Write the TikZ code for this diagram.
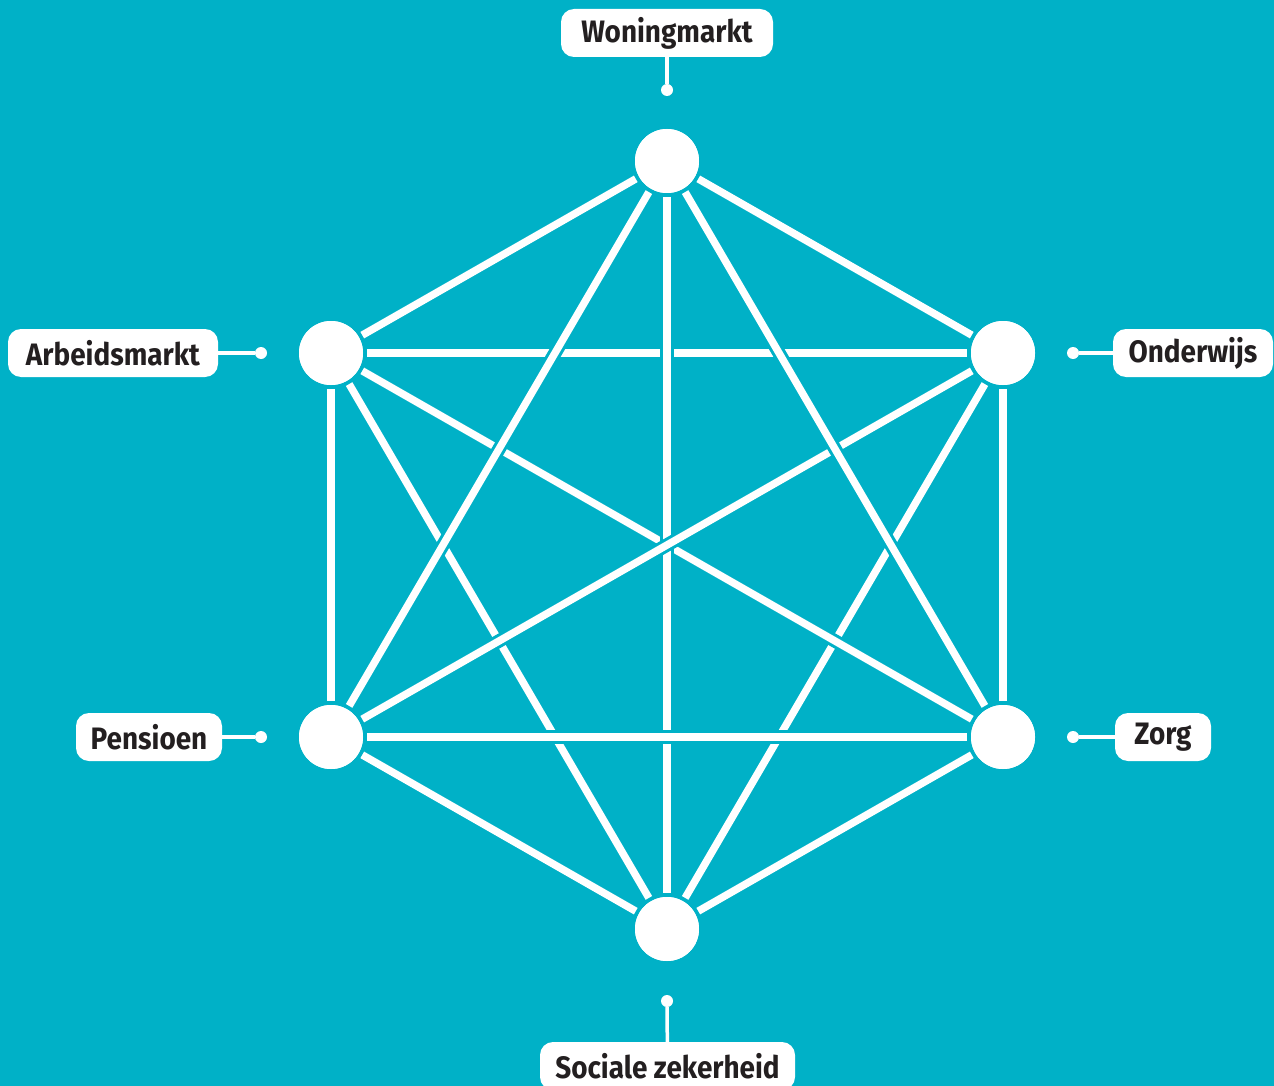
\documentclass[tikz,border=0pt]{standalone}
\usepackage{fontspec}
\setmainfont{Fira Sans}[FakeStretch=0.9]
\definecolor{bg}{HTML}{00B1C7}
\definecolor{ink}{HTML}{231F20}
\tikzset{
  hub/.style={circle, fill=white, minimum size=64pt, inner sep=0pt, outer sep=4pt},
  link/.style={line width=7.5pt, white, preaction={draw=bg, line width=13.5pt}},
  lab/.style={rounded corners=13pt, fill=white, minimum height=48pt, inner sep=0pt,
    text=ink, font=\bfseries\fontsize{31}{31}\selectfont},
  dot/.style={circle, fill=white, minimum size=12pt, inner sep=0pt},
  tick/.style={white, line width=3.5pt}
}
\begin{document}
\begin{tikzpicture}[x=1pt,y=-1pt]
\fill[bg] (0,0) rectangle (1274,1086);
\useasboundingbox (0,0) rectangle (1274,1086);

% hubs (placed first as coordinates for links; drawn on top later)
\node[hub] (W) at (667,161) {};
\node[hub] (A) at (331,353) {};
\node[hub] (O) at (1003,353) {};
\node[hub] (P) at (331,737) {};
\node[hub] (Z) at (1003,737) {};
\node[hub] (S) at (667,929) {};

% outer hexagon
\draw[link] (W) -- (A);
\draw[link] (W) -- (O);
\draw[link] (A) -- (P);
\draw[link] (O) -- (Z);
\draw[link] (P) -- (S);
\draw[link] (Z) -- (S);

% inner links, bottom to top
\draw[link] (A) -- (O);
\draw[link] (A) -- (S);
\draw[link] (O) -- (S);
\draw[link] (A) -- (Z);
\draw[link] (W) -- (S);
\draw[link] (P) -- (Z);
\draw[link] (O) -- (P);
\draw[link] (W) -- (P);
\draw[link] (W) -- (Z);

% redraw hubs on top
\foreach \n in {W,A,O,P,Z,S} \fill[white] (\n.center) circle (32pt);

% labels
\node[lab, minimum width=212pt] (lW) at (667,33) {Woningmarkt};
\node[lab, minimum width=210pt] (lA) at (113,353) {Arbeidsmarkt};
\node[lab, minimum width=160pt] (lO) at (1193,353) {Onderwijs};
\node[lab, minimum width=146pt] (lP) at (149,737) {Pensioen};
\node[lab, minimum width=96pt] (lZ) at (1163,737) {Zorg};
\node[lab, minimum width=255pt] (lS) at (667.5,1066) {Sociale zekerheid};

\node[dot] (dW) at (667,90) {};
\node[dot] (dA) at (261,353) {};
\node[dot] (dO) at (1073,353) {};
\node[dot] (dP) at (261,737) {};
\node[dot] (dZ) at (1073,737) {};
\node[dot] (dS) at (667,1001) {};

\draw[tick] (lW) -- (dW);
\draw[tick] (lA) -- (dA);
\draw[tick] (lO) -- (dO);
\draw[tick] (lP) -- (dP);
\draw[tick] (lZ) -- (dZ);
\draw[tick] (lS) -- (dS);
\end{tikzpicture}
\end{document}
